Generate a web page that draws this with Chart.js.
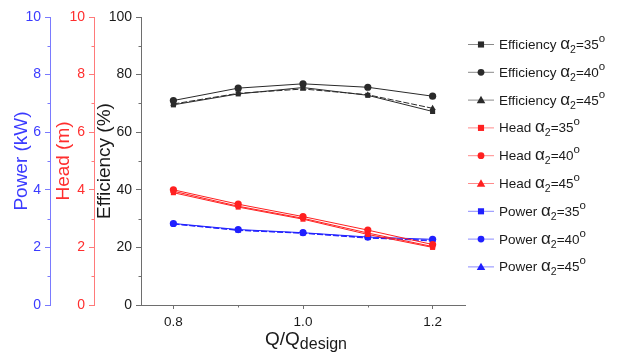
<!DOCTYPE html>
<html>
<head>
<meta charset="utf-8">
<script src="https://cdn.jsdelivr.net/npm/chart.js@4/dist/chart.umd.min.js"></script>
<style>
  html, body { margin: 0; padding: 0; background: #fff; }
  canvas { display: block; }
</style>
</head>
<body>
<canvas id="chart" width="621" height="363"></canvas>
<script>
// Flow ratio Q/Qdesign
const flowRatio = [0.8, 0.9, 1.0, 1.1, 1.2];
const outletAngles = [35, 40, 45];

// Efficiency (%)
const efficiency35 = [69.5, 73.3, 75.5, 72.8, 67.2];
const efficiency40 = [71.0, 75.3, 76.8, 75.6, 72.5];
const efficiency45 = [69.8, 73.5, 75.0, 73.0, 68.3];

// Head (m)
const head35 = [3.90, 3.40, 2.98, 2.45, 2.00];
const head40 = [4.00, 3.50, 3.07, 2.60, 2.10];
const head45 = [3.95, 3.43, 3.01, 2.50, 2.03];

// Power (kW)
const power35 = [2.82, 2.60, 2.50, 2.34, 2.22];
const power40 = [2.83, 2.62, 2.51, 2.36, 2.28];
const power45 = [2.81, 2.59, 2.49, 2.32, 2.25];

// Tick values
const xTicks = [0.8, 0.9, 1.0, 1.1, 1.2];
const efficiencyTicks = [0, 10, 20, 30, 40, 50, 60, 70, 80, 90, 100];
const unitTicks = [0, 1, 2, 3, 4, 5, 6, 7, 8, 9, 10];

const FONT = "'Liberation Sans', Arial, sans-serif";
const markers = ['rect', 'circle', 'triangle'];

const BLUE_TEXT = '#3b3bff', BLUE_LINE = '#7a7aff';
const RED_TEXT = '#ff2e2e', RED_LINE = '#ff7a7a';
const GREY_LINE = '#6e6e6e';

function series(quantity, idx, values, axis, color, legendLine, dash) {
  return {
    label: quantity + ' \u03b12=' + outletAngles[idx] + 'o',
    quantity: quantity,
    angle: outletAngles[idx],
    legendLine: legendLine,
    data: flowRatio.map((q, i) => ({ x: q, y: values[i] })),
    yAxisID: axis,
    borderColor: color,
    backgroundColor: color,
    borderWidth: 1,
    borderDash: dash || [],
    pointStyle: markers[idx],
    pointRadius: 3.6,
    pointBorderWidth: 0,
    pointBackgroundColor: color,
    tension: 0
  };
}

const datasets = [
  series('Efficiency', 0, efficiency35, 'yEff', '#2a2a2a', '#8a8a8a'),
  series('Efficiency', 1, efficiency40, 'yEff', '#2a2a2a', '#8a8a8a'),
  series('Efficiency', 2, efficiency45, 'yEff', '#2a2a2a', '#8a8a8a', [6, 2]),
  series('Head', 0, head35, 'yHead', '#ff2020', '#ff8a8a'),
  series('Head', 1, head40, 'yHead', '#ff2020', '#ff8a8a'),
  series('Head', 2, head45, 'yHead', '#ff2020', '#ff8a8a'),
  series('Power', 0, power35, 'yPower', '#2020ff', '#8a8aff', [6, 2]),
  series('Power', 1, power40, 'yPower', '#2020ff', '#8a8aff'),
  series('Power', 2, power45, 'yPower', '#2020ff', '#8a8aff', [6, 2])
];

function fixedTicks(values) {
  return scale => { scale.ticks = values.map(v => ({ value: v })); };
}
function fixedWidth(w) {
  return scale => { scale.width = w; };
}
const isMajor = (v, step) => Math.round(v / step) % 2 === 0;
const evenLabel = step => v => (isMajor(v, step) ? String(v) : '');
// major ticks are drawn by the grid, minor ones by the minorTicks plugin
const majorTickColor = (color, step) => c => (c.tick && isMajor(c.tick.value, step) ? color : 'rgba(0,0,0,0)');

function yAxis(ticks, max, weight, width, textColor, lineColor, title, titlePad, step) {
  return {
    type: 'linear',
    position: 'left',
    weight: weight,
    min: 0,
    max: max,
    minorStep: step,
    minorColor: lineColor,
    afterBuildTicks: fixedTicks(ticks),
    afterFit: fixedWidth(width),
    border: { display: true, color: lineColor, width: 1 },
    grid: { drawOnChartArea: false, drawTicks: true, tickLength: 5, tickColor: majorTickColor(lineColor, step), tickWidth: 1 },
    ticks: { color: textColor, padding: 4, font: { family: FONT, size: 14 }, callback: evenLabel(step) },
    title: {
      display: true, text: title, color: textColor,
      font: { family: FONT, size: 19, lineHeight: 1 },
      padding: { top: titlePad, bottom: 0 }
    }
  };
}

// Short minor ticks between labelled ticks
const minorTicks = {
  id: 'minorTicks',
  afterDraw(chart) {
    const ctx = chart.ctx;
    ctx.save();
    ctx.lineWidth = 1;
    Object.values(chart.scales).forEach(scale => {
      const step = scale.options.minorStep;
      ctx.strokeStyle = scale.options.minorColor;
      scale.ticks.forEach(t => {
        if (isMajor(t.value, step)) return;
        const p = Math.round(scale.getPixelForValue(t.value)) + 0.5;
        ctx.beginPath();
        if (scale.isHorizontal()) {
          ctx.moveTo(p, scale.top);
          ctx.lineTo(p, scale.top + 2.5);
        } else {
          ctx.moveTo(scale.right, p);
          ctx.lineTo(scale.right - 2.5, p);
        }
        ctx.stroke();
      });
    });
    ctx.restore();
  }
};

// Side legend with subscript/superscript in the labels
const sideLegend = {
  id: 'sideLegend',
  afterDraw(chart) {
    const ctx = chart.ctx;
    const area = chart.chartArea;
    const x0 = area.right + 3;
    const step = 27.8;
    let y = area.top + 27;
    ctx.save();
    chart.data.datasets.forEach(ds => {
      ctx.strokeStyle = ds.legendLine;
      ctx.lineWidth = 1;
      ctx.setLineDash([]);
      ctx.beginPath();
      ctx.moveTo(x0, y + 0.5);
      ctx.lineTo(x0 + 26, y + 0.5);
      ctx.stroke();
      drawMarker(ctx, ds.pointStyle, x0 + 13, y + 0.5, 3.4, ds.pointBackgroundColor);

      let x = x0 + 31;
      ctx.fillStyle = '#1a1a1a';
      ctx.textBaseline = 'alphabetic';
      ctx.textAlign = 'left';
      const base = y + 5;
      const parts = [
        [ds.quantity + ' ', 13.5, 0],
        ['\u03b1', 17, 0],
        ['2', 10.5, 4],
        ['=' + ds.angle, 13.5, 0],
        ['o', 11.5, -7]
      ];
      parts.forEach(([t, size, dy]) => {
        ctx.font = size + 'px ' + FONT;
        ctx.fillText(t, x, base + dy);
        x += ctx.measureText(t).width;
      });
      y += step;
    });
    ctx.restore();
  }
};

function drawMarker(ctx, style, x, y, r, color) {
  ctx.fillStyle = color;
  ctx.beginPath();
  if (style === 'rect') {
    ctx.rect(x - r * 0.9, y - r * 0.9, r * 1.8, r * 1.8);
  } else if (style === 'circle') {
    ctx.arc(x, y, r, 0, Math.PI * 2);
  } else {
    const s = r * 1.25;
    ctx.moveTo(x, y - s);
    ctx.lineTo(x + s, y + s * 0.75);
    ctx.lineTo(x - s, y + s * 0.75);
    ctx.closePath();
  }
  ctx.fill();
}

// x-axis title with subscript
const xTitle = {
  id: 'xTitle',
  afterDraw(chart) {
    const ctx = chart.ctx;
    const area = chart.chartArea;
    ctx.save();
    ctx.fillStyle = '#1a1a1a';
    ctx.textBaseline = 'alphabetic';
    ctx.textAlign = 'left';
    const mainFont = '19px ' + FONT, subFont = '16px ' + FONT;
    ctx.font = mainFont;
    const w1 = ctx.measureText('Q/Q').width;
    ctx.font = subFont;
    const w2 = ctx.measureText('design').width;
    const cx = (area.left + area.right) / 2 + 3;
    const x = cx - (w1 + w2) / 2;
    const base = area.bottom + 40;
    ctx.font = mainFont;
    ctx.fillText('Q/Q', x, base);
    ctx.font = subFont;
    ctx.fillText('design', x + w1, base + 4);
    ctx.restore();
  }
};

new Chart(document.getElementById('chart'), {
  type: 'line',
  data: { datasets: datasets },
  options: {
    responsive: false,
    animation: false,
    events: [],
    layout: { padding: { left: 0, right: 156, top: 17, bottom: 0 } },
    plugins: { legend: { display: false }, tooltip: { enabled: false } },
    scales: {
      x: {
        type: 'linear',
        min: 0.75,
        max: 1.25,
        minorStep: 0.1,
        minorColor: GREY_LINE,
        afterBuildTicks: fixedTicks(xTicks),
        afterFit: scale => { scale.height = 58; },
        border: { display: true, color: GREY_LINE, width: 1 },
        grid: { drawOnChartArea: false, drawTicks: true, tickLength: 4, tickColor: majorTickColor(GREY_LINE, 0.1) },
        ticks: {
          color: '#1a1a1a', padding: 5, maxRotation: 0,
          font: { family: FONT, size: 13.5 },
          callback: v => (isMajor(v, 0.1) ? v.toFixed(1) : '')
        }
      },
      yEff: yAxis(efficiencyTicks, 100, 0, 47, '#1a1a1a', GREY_LINE, 'Efficiency (%)', 1.5, 10),
      yHead: yAxis(unitTicks, 10, 1, 44, RED_TEXT, RED_LINE, 'Head (m)', 4.5, 1),
      yPower: yAxis(unitTicks, 10, 2, 50, BLUE_TEXT, BLUE_LINE, 'Power (kW)', 12.5, 1)
    }
  },
  plugins: [minorTicks, sideLegend, xTitle]
});
</script>
</body>
</html>
